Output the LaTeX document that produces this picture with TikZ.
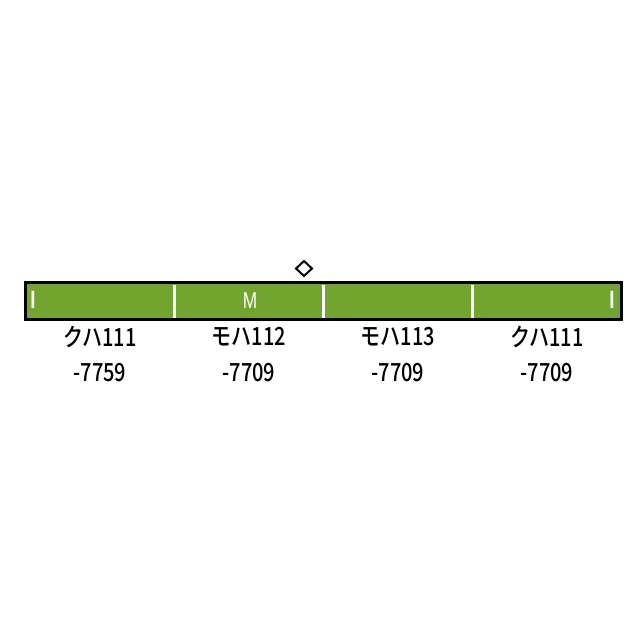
\documentclass[tikz,border=0pt]{standalone}
\usepackage{fontspec}
\newfontfamily\jpfont[FakeStretch=0.8,UprightFont=* Medium]{Noto Sans CJK JP}
\newfontfamily\markfont[FakeStretch=0.75]{Liberation Sans}
\definecolor{cargreen}{RGB}{113,165,48}
\begin{document}
\begin{tikzpicture}[x=1pt,y=-1pt,
  carbox/.style={fill=cargreen,draw=none,minimum width=149pt,minimum height=37pt,inner sep=0pt,outer sep=0pt},
  divider/.style={draw=white,line width=2.2pt},
  markwhite/.style={text=white,font=\markfont\fontsize{25}{25}\selectfont,inner sep=0pt},
  carlabel/.style={font=\jpfont\fontsize{25}{25}\selectfont,inner sep=0pt,anchor=center},
  diamondmark/.style={draw=black,line width=2pt}]
\useasboundingbox (0,0) rectangle (640,640);
\node[carbox] (c1) at (100,301) {};
\node[carbox] (c2) at (249,301) {};
\node[carbox] (c3) at (398,301) {};
\node[carbox] (c4) at (547,301) {};
\draw[line width=3pt] (c1.north west) rectangle (c4.south east);
\draw[divider] ([yshift=-2pt]c1.north east) -- ([yshift=2pt]c1.south east);
\draw[divider] ([yshift=-2pt]c2.north east) -- ([yshift=2pt]c2.south east);
\draw[divider] ([yshift=-2pt]c3.north east) -- ([yshift=2pt]c3.south east);
\node[markwhite,font=\markfont\bfseries\fontsize{25}{25}\selectfont] (m1) at (33,300) {I};
\node[markwhite] (m2) at (250,301) {\fontsize{23}{23}\selectfont M};
\node[markwhite,font=\markfont\bfseries\fontsize{25}{25}\selectfont] (m4) at (612,300) {I};
\draw[diamondmark] (304,261) coordinate (dt) -- (312,268.5) -- (304,276) -- (296,268.5) -- cycle;
\node[carlabel] (l1) at (100,337) {クハ111};
\node[carlabel] (n1) at (100,373) {-7759};
\node[carlabel] (l2) at (249,337) {モハ112};
\node[carlabel] (n2) at (249,373) {-7709};
\node[carlabel] (l3) at (398,337) {モハ113};
\node[carlabel] (n3) at (398,373) {-7709};
\node[carlabel] (l4) at (547,337) {クハ111};
\node[carlabel] (n4) at (547,373) {-7709};
\end{tikzpicture}
\end{document}
